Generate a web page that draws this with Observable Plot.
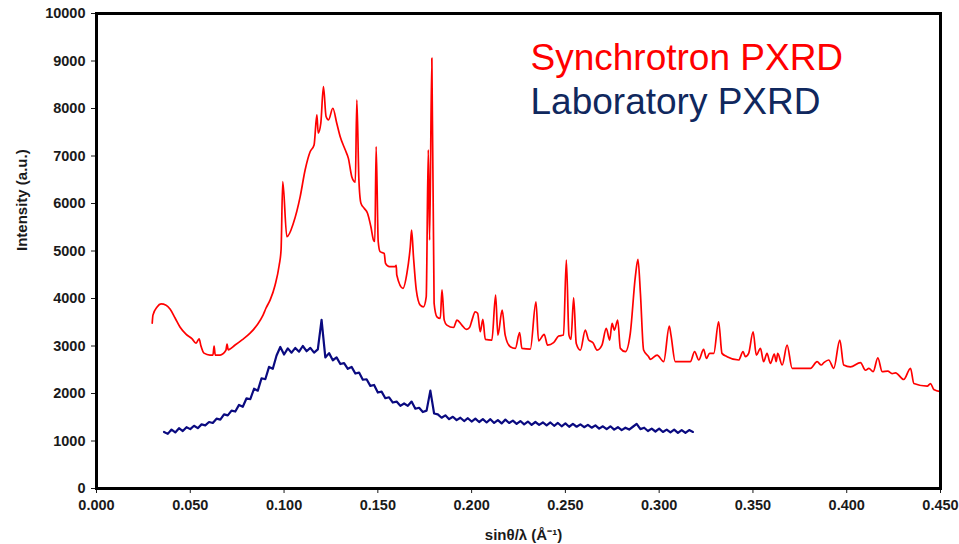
<!DOCTYPE html>
<html><head><meta charset="utf-8">
<script src="https://cdn.jsdelivr.net/npm/d3@7"></script>
<script src="https://cdn.jsdelivr.net/npm/@observablehq/plot@0.6"></script>
<style>body{margin:0;background:#fff;}</style>
</head><body><div id="chart"></div>
<script>
// Synchrotron PXRD (sinθ/λ, intensity)
const synchrotronX = [0.0297,0.0301,0.0323,0.0344,0.0371,0.0392,0.0419,0.0445,0.0477,0.051,0.053,0.0547,0.0557,0.0573,0.0605,0.0621,0.0627,0.0633,0.0659,0.069,0.0696,0.0702,0.0739,0.0776,0.0819,0.0856,0.0888,0.0904,0.0926,0.0952,0.0974,0.0984,0.0993,0.1015,0.105,0.1086,0.1112,0.1139,0.116,0.1175,0.1182,0.1196,0.121,0.1224,0.1237,0.126,0.1281,0.1299,0.1326,0.1343,0.1361,0.1374,0.138,0.1388,0.1399,0.141,0.1427,0.1445,0.1463,0.1477,0.1484,0.1491,0.1502,0.1512,0.1534,0.1541,0.1562,0.1592,0.1598,0.1601,0.1634,0.1655,0.1673,0.168,0.169,0.1705,0.1726,0.1743,0.1758,0.1769,0.1776,0.1788,0.18,0.1815,0.1833,0.1842,0.1854,0.1868,0.1904,0.1922,0.1948,0.1971,0.1989,0.2002,0.2019,0.2032,0.2046,0.206,0.2073,0.2108,0.2128,0.214,0.2163,0.2179,0.2206,0.2233,0.2256,0.2268,0.2313,0.2343,0.2357,0.2387,0.2405,0.2437,0.2464,0.249,0.2505,0.2519,0.253,0.2544,0.2558,0.258,0.2606,0.2624,0.2647,0.2669,0.2695,0.2718,0.2736,0.2749,0.2761,0.2779,0.2793,0.282,0.2846,0.2873,0.2887,0.29,0.2917,0.2944,0.2953,0.2989,0.3024,0.3054,0.3063,0.3086,0.3166,0.3189,0.3211,0.3237,0.3252,0.3269,0.3291,0.3317,0.3335,0.3362,0.3424,0.3447,0.346,0.3477,0.3501,0.3518,0.354,0.3557,0.3575,0.3593,0.3614,0.3624,0.3632,0.3656,0.3682,0.3709,0.3807,0.3842,0.3864,0.3878,0.3904,0.3931,0.3963,0.3984,0.402,0.4073,0.41,0.4118,0.4141,0.4166,0.4189,0.4219,0.4242,0.426,0.4304,0.434,0.4358,0.4429,0.4447,0.4464,0.45];
const synchrotronY = [3480,3650,3820,3885,3860,3780,3590,3400,3250,3150,3060,3150,3000,2850,2810,2810,3000,2810,2810,2910,3040,2920,3020,3130,3270,3440,3650,3800,3970,4280,4700,5020,6460,5300,5590,6145,6700,7090,7230,7865,7480,7690,8460,7830,7760,8005,7690,7410,7130,6950,6565,6460,6450,8180,6500,6005,5900,5795,5510,5230,5200,7200,5200,4985,4950,4740,4670,4670,4700,4495,4215,4530,5090,5440,4880,4180,3860,3825,4035,7130,5230,9060,3900,3615,3580,4180,3545,3440,3390,3545,3440,3350,3390,3545,3720,3690,3300,3560,3140,3125,4070,3230,3755,3230,2985,2950,3280,2950,2935,3930,3110,3245,3020,3070,3210,3230,4810,3230,3140,4015,3055,2915,3335,3125,3070,2915,3020,3370,3125,3475,3335,3545,2950,2880,3265,4460,4825,4110,2915,2775,2718,2810,2670,3420,3230,2670,2670,2880,2705,2930,2740,2845,2845,3510,2845,2775,2705,2880,2775,2845,3300,2810,2950,2670,2845,2635,2830,2670,2845,2600,3020,2530,2530,2670,2600,2650,2705,2530,3125,2600,2560,2650,2490,2530,2460,2750,2460,2470,2420,2435,2295,2530,2210,2155,2210,2085,2040];

// Laboratory PXRD: sampled every 0.002 from 0.036
const labStart = 0.036, labStep = 0.002;
const laboratoryY = [
  1190,1150,1240,1180,1270,1210,1290,1250,1320,1270,
  1350,1330,1400,1380,1470,1450,1560,1540,1640,1620,
  1760,1720,1900,1880,2100,2060,2320,2300,2560,2520,
  2800,2980,2820,2950,2860,2960,2880,3000,2890,2960,
  2860,2930,3550,2760,2850,2700,2760,2620,2640,2520,
  2560,2420,2440,2290,2300,2160,2180,2020,2040,1900,
  1920,1810,1830,1740,1790,1740,1830,1680,1700,1610,
  1640,2060,1580,1560,1490,1540,1460,1510,1440,1490,
  1420,1480,1410,1470,1400,1460,1390,1460,1380,1440,
  1370,1450,1380,1430,1360,1420,1350,1410,1340,1400,
  1340,1390,1330,1390,1320,1380,1310,1370,1300,1360,
  1300,1350,1290,1340,1280,1330,1260,1310,1250,1310,
  1240,1290,1230,1280,1240,1300,1360,1250,1280,1210,
  1260,1200,1260,1190,1240,1180,1240,1170,1230,1170,
  1230,1190
];

const xTicks = [0, 0.05, 0.10, 0.15, 0.20, 0.25, 0.30, 0.35, 0.40, 0.45];
const yTicks = [0,1000,2000,3000,4000,5000,6000,7000,8000,9000,10000];
const seriesNames = ["Synchrotron PXRD", "Laboratory PXRD"];
const seriesColors = ["#ff0000", "#0a0a80"];
const legendColors = ["#ff0000", "#10285e"];

const synch = synchrotronX.map((x, i) => ({x, y: synchrotronY[i]}));
const lab = laboratoryY.map((y, i) => ({x: +(labStart + i * labStep).toFixed(4), y}));

const chart = Plot.plot({
  width: 959, height: 544,
  marginLeft: 96, marginRight: 19, marginTop: 13, marginBottom: 56,
  x: {domain: [0, 0.45]},
  y: {domain: [0, 10000]},
  style: {fontFamily: "'Liberation Sans', Arial, sans-serif", fontSize: "14.5px", fontWeight: "bold", color: "#1a1a1a", background: "#fff"},
  marks: [
    Plot.axisY({ticks: yTicks, tickFormat: d => String(d), tickSize: 5, tickPadding: 6, label: null}),
    Plot.axisX({ticks: xTicks, tickFormat: d3.format(".3f"), tickSize: 5, tickPadding: 6, label: null}),
    Plot.text(["Intensity (a.u.)"], {frameAnchor: "left", dx: -74, rotate: -90, fontSize: 15, fontWeight: "bold", fill: "#1a1a1a"}),
    Plot.text(["sinθ/λ (Å⁻¹)"], {frameAnchor: "bottom", dx: 5, dy: 51, fontSize: 15, fontWeight: "bold", fill: "#1a1a1a"}),
    Plot.line(lab, {x: "x", y: "y", stroke: seriesColors[1], strokeWidth: 2.2}),
    Plot.line(synch, {x: "x", y: "y", stroke: seriesColors[0], strokeWidth: 1.7, curve: "monotone-x"}),
    Plot.frame({stroke: "#000", strokeWidth: 3}),
    Plot.text([seriesNames[0]], {frameAnchor: "top-left", dx: 434, dy: 30, lineAnchor: "top", textAnchor: "start", fill: legendColors[0], fontSize: 37, fontWeight: "normal"}),
    Plot.text([seriesNames[1]], {frameAnchor: "top-left", dx: 434, dy: 74, lineAnchor: "top", textAnchor: "start", fill: legendColors[1], fontSize: 37, fontWeight: "normal"})
  ]
});
document.getElementById("chart").appendChild(chart);
</script>
</body></html>
